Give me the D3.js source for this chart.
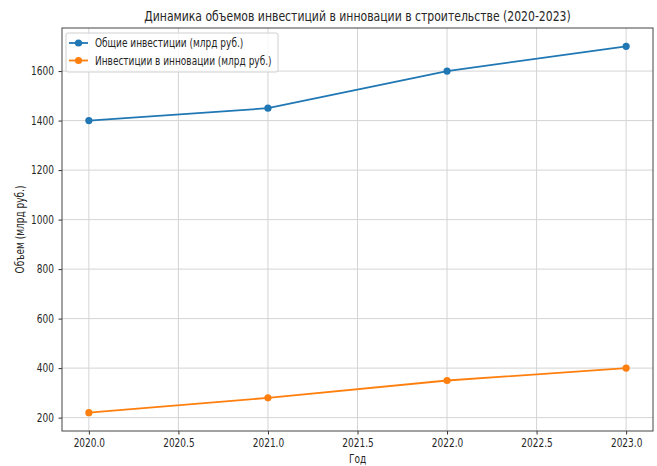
<!DOCTYPE html>
<html>
<head>
<meta charset="utf-8">
<script src="https://cdn.jsdelivr.net/npm/d3@7"></script>
<style>
  html, body { margin: 0; padding: 0; background: #fff; }
  text { font-family: "DejaVu Sans", sans-serif; fill: #262626; }
</style>
</head>
<body>
<svg id="chart" width="657" height="466"></svg>
<script>
// Investment dynamics, 2020-2023
const years = [2020, 2021, 2022, 2023];
const totalInvest = [1400, 1450, 1600, 1700];
const innovInvest = [220, 280, 350, 400];
const seriesNames = ["Общие инвестиции (млрд руб.)", "Инвестиции в инновации (млрд руб.)"];
const seriesColors = ["#1f77b4", "#ff7f0e"];
const xTicks = [2020.0, 2020.5, 2021.0, 2021.5, 2022.0, 2022.5, 2023.0];
const yTicks = [200, 400, 600, 800, 1000, 1200, 1400, 1600];
const titleText = "Динамика объемов инвестиций в инновации в строительстве (2020-2023)";
const xLabel = "Год";
const yLabel = "Объем (млрд руб.)";

const SX = 0.75; // horizontal squeeze applied to all text

const svg = d3.select("#chart");
const margin = { left: 62, top: 28, right: 4, bottom: 35 };
const W = 657, H = 466;
const pw = W - margin.left - margin.right;
const ph = H - margin.top - margin.bottom;

// matplotlib-style 5% margins
const xExt = d3.extent(years), xPad = (xExt[1] - xExt[0]) * 0.05;
const allY = totalInvest.concat(innovInvest);
const yExt = d3.extent(allY), yPad = (yExt[1] - yExt[0]) * 0.05;

const x = d3.scaleLinear().domain([xExt[0] - xPad, xExt[1] + xPad]).range([0, pw]);
const y = d3.scaleLinear().domain([yExt[0] - yPad, yExt[1] + yPad]).range([ph, 0]);

const g = svg.append("g").attr("transform", `translate(${margin.left},${margin.top})`);

// grid
g.append("g").selectAll("line").data(xTicks).join("line")
  .attr("x1", d => x(d)).attr("x2", d => x(d)).attr("y1", 0).attr("y2", ph)
  .attr("stroke", "#d4d4d4").attr("stroke-width", 1);
g.append("g").selectAll("line").data(yTicks).join("line")
  .attr("y1", d => y(d)).attr("y2", d => y(d)).attr("x1", 0).attr("x2", pw)
  .attr("stroke", "#d4d4d4").attr("stroke-width", 1);

// axes
function squeezeTicks(sel) {
  sel.selectAll(".tick text").each(function () {
    const t = d3.select(this);
    const tx = +t.attr("x") || 0;
    t.attr("transform", `translate(${tx},0) scale(${SX},1)`).attr("x", 0);
  });
}
const xAxis = g.append("g").attr("transform", `translate(0,${ph})`)
  .call(d3.axisBottom(x).tickValues(xTicks).tickFormat(d3.format(".1f")).tickSize(3.5).tickPadding(3.5));
const yAxis = g.append("g")
  .call(d3.axisLeft(y).tickValues(yTicks).tickFormat(d3.format("d")).tickSize(3.5).tickPadding(4.5));
[xAxis, yAxis].forEach(a => {
  a.select(".domain").remove();
  a.selectAll(".tick line").attr("stroke", "#333");
  a.selectAll(".tick text").attr("font-size", 12).attr("fill", "#262626")
    .style("font-family", '"DejaVu Sans", sans-serif');
  squeezeTicks(a);
});

// frame
g.append("rect").attr("x", 0).attr("y", 0).attr("width", pw).attr("height", ph)
  .attr("fill", "none").attr("stroke", "#444").attr("stroke-width", 1);

// series
const series = [totalInvest, innovInvest];
const line = d3.line().x((d, i) => x(years[i])).y(d => y(d));
series.forEach((vals, si) => {
  g.append("path").datum(vals).attr("d", line)
    .attr("fill", "none").attr("stroke", seriesColors[si]).attr("stroke-width", 1.8);
  g.append("g").selectAll("circle").data(vals).join("circle")
    .attr("cx", (d, i) => x(years[i])).attr("cy", d => y(d)).attr("r", 3.6)
    .attr("fill", seriesColors[si]);
});

// legend
const lg = g.append("g").attr("transform", "translate(4,5)");
lg.append("rect").attr("width", 212).attr("height", 39).attr("rx", 2)
  .attr("fill", "rgba(255,255,255,0.8)").attr("stroke", "#d0d0d0");
seriesNames.forEach((name, i) => {
  const cy = 10 + i * 17.5;
  lg.append("line").attr("x1", 3).attr("x2", 22).attr("y1", cy).attr("y2", cy)
    .attr("stroke", seriesColors[i]).attr("stroke-width", 1.8);
  lg.append("circle").attr("cx", 12.5).attr("cy", cy).attr("r", 3.6).attr("fill", seriesColors[i]);
  lg.append("text").attr("transform", `translate(29,${cy}) scale(${SX},1)`)
    .attr("dy", "0.35em").attr("font-size", 12).text(name);
});

// titles
svg.append("text").attr("transform", `translate(${margin.left + pw / 2},20.5) scale(${SX},1)`)
  .attr("text-anchor", "middle").attr("font-size", 14.5).text(titleText);
svg.append("text").attr("transform", `translate(${margin.left + pw / 2},462.5) scale(${SX},1)`)
  .attr("text-anchor", "middle").attr("font-size", 12).text(xLabel);
svg.append("text").attr("transform", `translate(24,${margin.top + ph / 2}) rotate(-90) scale(${SX},1)`)
  .attr("text-anchor", "middle").attr("font-size", 12).text(yLabel);
</script>
</body>
</html>
